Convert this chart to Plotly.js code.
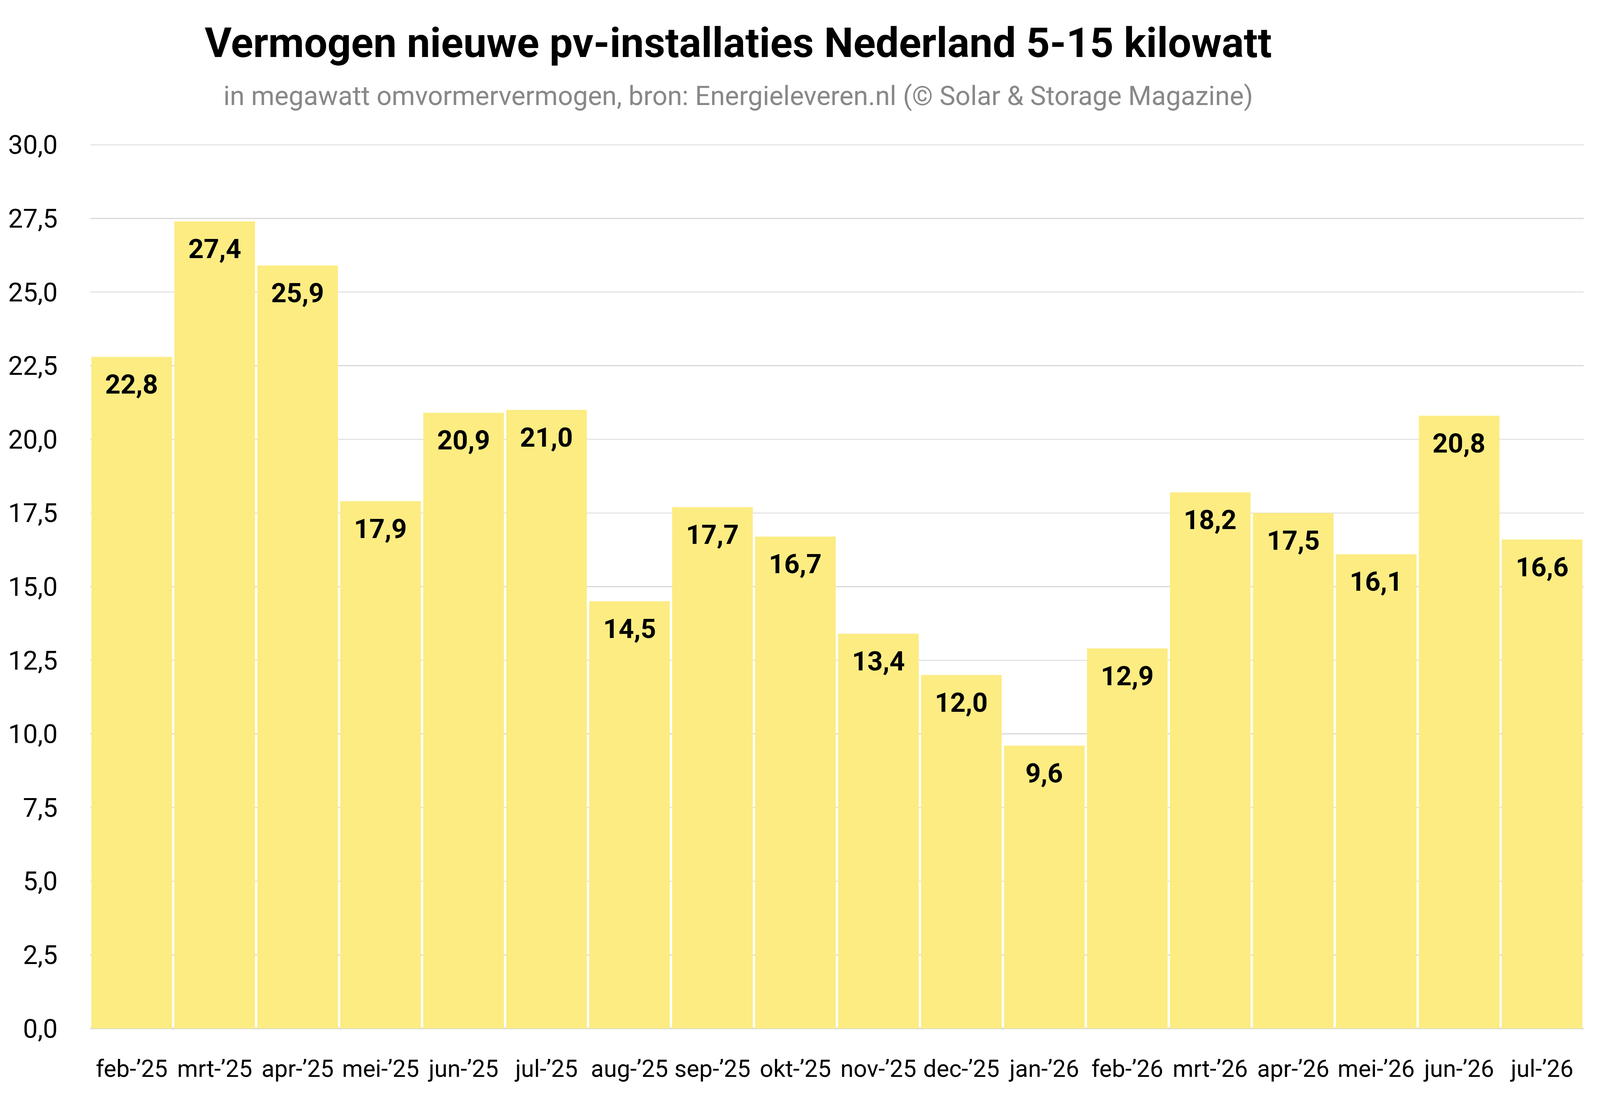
<!DOCTYPE html>
<html>
<head>
<meta charset="utf-8">
<script src="https://cdn.plot.ly/plotly-3.0.1.min.js"></script>
<style>
  html, body { margin: 0; padding: 0; background: #ffffff; overflow: hidden; }
  #chart { width: 100vw; height: 100vh; }
</style>
</head>
<body>
<div id="chart"></div>
<script>
// Maanden (categorieën) en vermogen in MW
const months = [
  'feb-’25', 'mrt-’25', 'apr-’25', 'mei-’25', 'jun-’25', 'jul-’25',
  'aug-’25', 'sep-’25', 'okt-’25', 'nov-’25', 'dec-’25', 'jan-’26',
  'feb-’26', 'mrt-’26', 'apr-’26', 'mei-’26', 'jun-’26', 'jul-’26'
];
const capacityMW = [
  22.8, 27.4, 25.9, 17.9, 20.9, 21.0,
  14.5, 17.7, 16.7, 13.4, 12.0, 9.6,
  12.9, 18.2, 17.5, 16.1, 20.8, 16.6
];
const yTicks = [0, 2.5, 5, 7.5, 10, 12.5, 15, 17.5, 20, 22.5, 25, 27.5, 30];

const titleText = 'Vermogen nieuwe pv-installaties Nederland 5-15 kilowatt';
const subtitleText = 'in megawatt omvormervermogen, bron: Energieleveren.nl (© Solar & Storage Magazine)';

// NL notatie: komma als decimaalteken
function fmt(v) {
  return v.toFixed(1).replace('.', ',');
}

// Design was made for a 4990 x 2807 canvas, scale it to the real window
const W = window.innerWidth;
const H = window.innerHeight;
const kx = W / 4990;
const ky = H / 2807;
const k = Math.min(kx, ky);

var barTrace = {
  x: months,
  y: capacityMW,
  type: 'bar',
  marker: { color: '#FCEC82', line: { width: 0 } },
  hoverinfo: 'skip',
};

// Labels in de staaf, iets onder de bovenkant
var valueLabels = months.map((m, i) => ({
  x: m,
  y: capacityMW[i],
  xref: 'x',
  yref: 'y',
  text: '<b>' + fmt(capacityMW[i]) + '</b>',
  showarrow: false,
  yanchor: 'top',
  yshift: -28 * ky,
  font: { family: 'Roboto, sans-serif', size: 84 * k, color: '#000000' },
}));

var headerLabels = [
  {
    xref: 'paper', yref: 'paper', x: 0.434, y: 1.085,
    xanchor: 'center', yanchor: 'bottom',
    text: '<b>' + titleText + '</b>',
    showarrow: false,
    font: { family: 'Roboto, sans-serif', size: 129 * k, color: '#000000' },
  },
  {
    xref: 'paper', yref: 'paper', x: 0.434, y: 1.035,
    xanchor: 'center', yanchor: 'bottom',
    text: subtitleText,
    showarrow: false,
    font: { family: 'Roboto, sans-serif', size: 83 * k, color: '#888888' },
  },
];

var layout = {
  width: W,
  height: H,
  margin: { t: 367 * ky, b: 173 * ky, l: 281 * kx, r: 51 * kx, pad: 0 },
  paper_bgcolor: '#ffffff',
  plot_bgcolor: '#ffffff',
  showlegend: false,
  bargap: 0.028,
  font: { family: 'Roboto, sans-serif', size: 80 * k, color: '#000000' },
  xaxis: {
    type: 'category',
    tickfont: { size: 74 * k, color: '#000000' },
    // invisible ticks only push the labels away from the axis
    ticks: 'outside',
    ticklen: 50 * ky,
    tickcolor: 'rgba(0,0,0,0)',
    showgrid: false,
    showline: false,
    zeroline: false,
    automargin: false,
  },
  yaxis: {
    range: [0, 30.05],
    tickvals: yTicks,
    ticktext: yTicks.map(fmt),
    tickfont: { size: 82 * k, color: '#000000' },
    ticks: 'outside',
    ticklen: 84 * kx,
    tickcolor: 'rgba(0,0,0,0)',
    showgrid: true,
    gridcolor: '#d9d9d9',
    gridwidth: 3 * k,
    zeroline: true,
    zerolinecolor: '#d9d9d9',
    zerolinewidth: 4 * k,
    showline: false,
    automargin: false,
    layer: 'below traces',
  },
  annotations: headerLabels.concat(valueLabels),
};

var config = { responsive: false, displayModeBar: false, staticPlot: true };

Plotly.newPlot('chart', [barTrace], layout, config);
</script>
</body>
</html>
